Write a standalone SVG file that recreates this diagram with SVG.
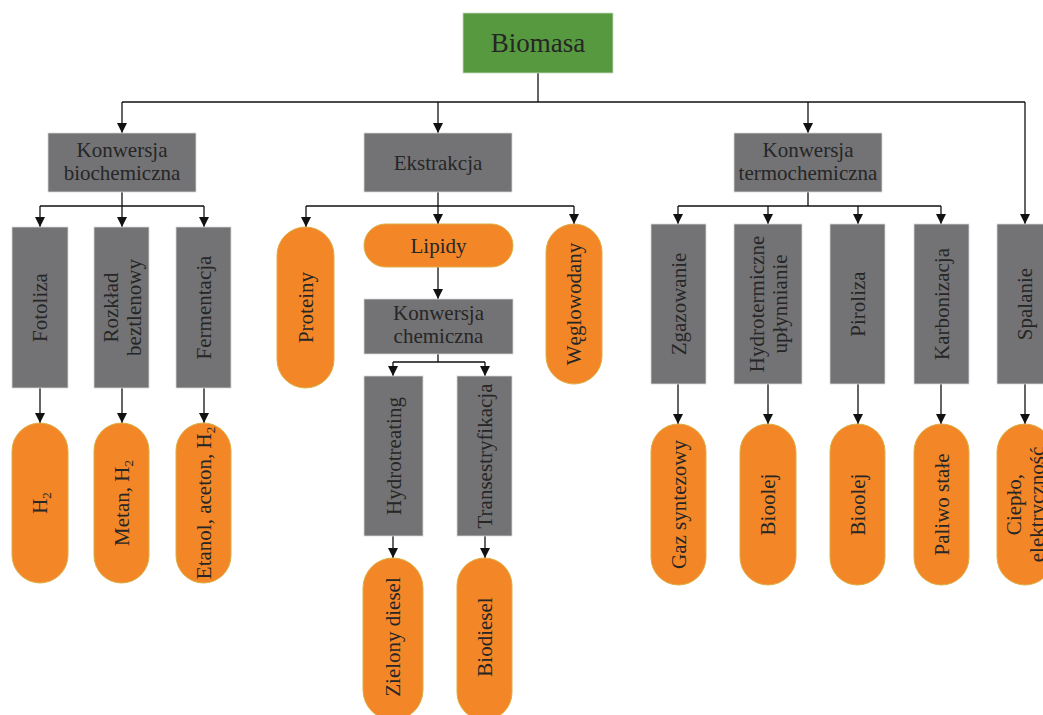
<svg xmlns="http://www.w3.org/2000/svg" width="1043" height="715" viewBox="0 0 1043 715">
<defs>
<marker id="ah" markerUnits="userSpaceOnUse" markerWidth="10" markerHeight="11" refX="10" refY="5" orient="auto">
<path d="M0,0 L10,5 L0,10 z" fill="#111"/>
</marker>
<style>
.box{fill:#737375;stroke:#d8d8d8;stroke-width:0.8}
.pill{fill:#f38728;stroke:#dcae45;stroke-width:1}
.root{fill:#56993f;stroke:#c9dcc0;stroke-width:0.8}
text{font-family:"Liberation Serif","Times New Roman",serif;font-size:21px;fill:#262626;text-anchor:middle}
.c{fill:none;stroke:#111;stroke-width:1.3}
.a{fill:none;stroke:#111;stroke-width:1.3;marker-end:url(#ah)}
.sub{font-size:13px}
</style>
</defs>
<rect width="1043" height="715" fill="#fff"/>

<g id="connectors">
<path class="c" d="M538,73 V102 M122,102 H1025"/>
<path class="a" d="M122,102 V133"/>
<path class="a" d="M438,102 V133"/>
<path class="a" d="M808,102 V133"/>
<path class="a" d="M1025,102 V224"/>
<path class="c" d="M122,192 V206 M40,206 H204"/>
<path class="a" d="M40,206 V227"/>
<path class="a" d="M122,206 V227"/>
<path class="a" d="M204,206 V227"/>
<path class="a" d="M40,388 V423"/>
<path class="a" d="M122,388 V423"/>
<path class="a" d="M204,388 V423"/>
<path class="c" d="M306,206 H574"/>
<path class="a" d="M438,192 V224"/>
<path class="a" d="M306,206 V227"/>
<path class="a" d="M574,206 V224"/>
<path class="a" d="M438,267 V299"/>
<path class="c" d="M438,354 V362 M393,362 H485"/>
<path class="a" d="M393,362 V376"/>
<path class="a" d="M485,362 V376"/>
<path class="a" d="M393,536 V558"/>
<path class="a" d="M485,536 V558"/>
<path class="c" d="M808,192 V206 M678,206 H941"/>
<path class="a" d="M678,206 V224"/>
<path class="a" d="M768,206 V224"/>
<path class="a" d="M858,206 V224"/>
<path class="a" d="M941,206 V224"/>
<path class="a" d="M678,384 V424"/>
<path class="a" d="M768,384 V424"/>
<path class="a" d="M858,384 V424"/>
<path class="a" d="M941,384 V424"/>
<path class="a" d="M1025,384 V424"/>
</g>

<g id="biomasa"><rect class="root" x="463" y="13" width="150" height="60"/><text x="538" y="52" style="font-size:27px">Biomasa</text></g>

<g id="konw-bio"><rect class="box" x="48" y="133" width="148" height="59"/><text x="122" y="157">Konwersja</text><text x="122" y="180">biochemiczna</text></g>
<g id="ekstrakcja"><rect class="box" x="364" y="133" width="148" height="59"/><text x="438" y="170">Ekstrakcja</text></g>
<g id="konw-termo"><rect class="box" x="734" y="133" width="148" height="59"/><text x="808" y="157">Konwersja</text><text x="808" y="180">termochemiczna</text></g>

<g id="fotoliza"><rect class="box" x="12" y="227" width="56" height="161"/><text transform="translate(40,307.5) rotate(-90)" y="7">Fotoliza</text></g>
<g id="rozklad"><rect class="box" x="94" y="227" width="55" height="161"/><text transform="translate(121.5,307.5) rotate(-90)"><tspan x="0" y="-4">Rozkład</tspan><tspan x="0" y="19">beztlenowy</tspan></text></g>
<g id="fermentacja"><rect class="box" x="176" y="227" width="55" height="161"/><text transform="translate(203.5,307.5) rotate(-90)" y="7">Fermentacja</text></g>

<g id="h2"><rect class="pill" x="12" y="423" width="56" height="160" rx="28"/><text transform="translate(40,503) rotate(-90)" y="7">H<tspan class="sub" dy="4">2</tspan></text></g>
<g id="metan"><rect class="pill" x="94" y="423" width="55" height="160" rx="27.5"/><text transform="translate(121.5,503) rotate(-90)" y="7">Metan, H<tspan class="sub" dy="4">2</tspan></text></g>
<g id="etanol"><rect class="pill" x="176" y="423" width="55" height="160" rx="27.5"/><text transform="translate(203.5,503) rotate(-90)" y="7">Etanol, aceton, H<tspan class="sub" dy="4">2</tspan></text></g>

<g id="proteiny"><rect class="pill" x="277" y="227" width="57" height="161" rx="28.5"/><text transform="translate(305.5,307.5) rotate(-90)" y="7">Proteiny</text></g>
<g id="lipidy"><rect class="pill" x="364" y="224" width="149" height="43" rx="21.5"/><text x="438.5" y="253">Lipidy</text></g>
<g id="weglowodany"><rect class="pill" x="546" y="224" width="56" height="160" rx="28"/><text transform="translate(574,304) rotate(-90)" y="7">Węglowodany</text></g>

<g id="konw-chem"><rect class="box" x="364" y="299" width="149" height="55"/><text x="438.5" y="320">Konwersja</text><text x="438.5" y="343">chemiczna</text></g>
<g id="hydrotreating"><rect class="box" x="364" y="376" width="59" height="160"/><text transform="translate(393.5,456) rotate(-90)" y="7">Hydrotreating</text></g>
<g id="transestryfikacja"><rect class="box" x="457" y="376" width="55" height="160"/><text transform="translate(484.5,456) rotate(-90)" y="7">Transestryfikacja</text></g>
<g id="zielony"><rect class="pill" x="363" y="558" width="60" height="162" rx="30"/><text transform="translate(393,637) rotate(-90)" y="7">Zielony diesel</text></g>
<g id="biodiesel"><rect class="pill" x="457" y="558" width="55" height="162" rx="27.5"/><text transform="translate(484.5,637) rotate(-90)" y="7">Biodiesel</text></g>

<g id="zgazowanie"><rect class="box" x="651" y="224" width="55" height="160"/><text transform="translate(678.5,304) rotate(-90)" y="7">Zgazowanie</text></g>
<g id="hydrotermiczne"><rect class="box" x="734" y="224" width="68" height="160"/><text transform="translate(768,304) rotate(-90)"><tspan x="0" y="-4">Hydrotermiczne</tspan><tspan x="0" y="19">upłynnianie</tspan></text></g>
<g id="piroliza"><rect class="box" x="830" y="224" width="55" height="160"/><text transform="translate(857.5,304) rotate(-90)" y="7">Piroliza</text></g>
<g id="karbonizacja"><rect class="box" x="914" y="224" width="55" height="160"/><text transform="translate(941.5,304) rotate(-90)" y="7">Karbonizacja</text></g>
<g id="spalanie"><rect class="box" x="997" y="224" width="56" height="160"/><text transform="translate(1025,304) rotate(-90)" y="7">Spalanie</text></g>

<g id="gaz"><rect class="pill" x="651" y="424" width="55" height="161" rx="27.5"/><text transform="translate(678.5,504.5) rotate(-90)" y="7">Gaz syntezowy</text></g>
<g id="bioolej1"><rect class="pill" x="740" y="424" width="56" height="161" rx="28"/><text transform="translate(768,504.5) rotate(-90)" y="7">Bioolej</text></g>
<g id="bioolej2"><rect class="pill" x="830" y="424" width="55" height="161" rx="27.5"/><text transform="translate(857.5,504.5) rotate(-90)" y="7">Bioolej</text></g>
<g id="paliwo"><rect class="pill" x="914" y="424" width="55" height="161" rx="27.5"/><text transform="translate(941.5,504.5) rotate(-90)" y="7">Paliwo stałe</text></g>
<g id="cieplo"><rect class="pill" x="997" y="424" width="56" height="161" rx="28"/><text transform="translate(1025,504.5) rotate(-90)"><tspan x="0" y="-4">Ciepło,</tspan><tspan x="0" y="19">elektryczność</tspan></text></g>
</svg>
